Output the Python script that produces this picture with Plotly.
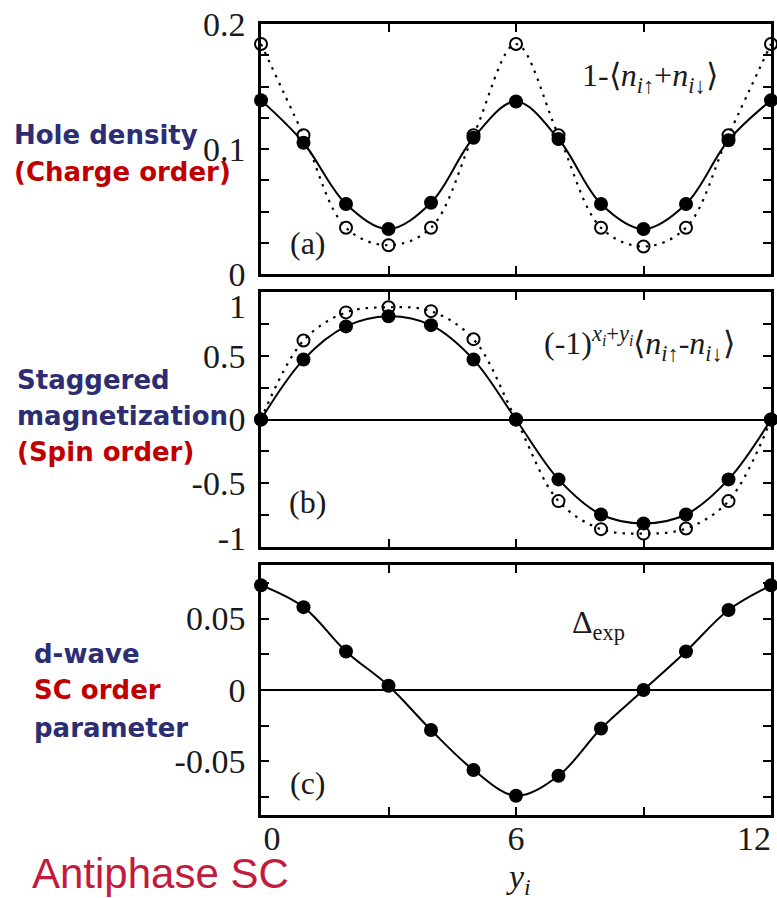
import plotly.graph_objects as go

W, H = 777, 898

# ---------------- data ----------------
y_sites = list(range(13))
hole_filled = [0.139, 0.105, 0.056, 0.036, 0.057, 0.109, 0.138, 0.108, 0.056, 0.036, 0.056, 0.107, 0.139]
hole_open = [0.184, 0.111, 0.037, 0.023, 0.037, 0.111, 0.184, 0.111, 0.037, 0.022, 0.037, 0.111, 0.184]
spin_filled = [0.0, 0.47, 0.73, 0.81, 0.74, 0.47, 0.0, -0.47, -0.745, -0.815, -0.745, -0.47, 0.0]
spin_open = [0.0, 0.62, 0.84, 0.88, 0.85, 0.63, 0.0, -0.64, -0.86, -0.895, -0.855, -0.64, 0.0]
dwave_filled = [0.0733, 0.058, 0.027, 0.003, -0.028, -0.056, -0.074, -0.060, -0.027, 0.0, 0.027, 0.056, 0.0733]

x_tickvals = [0, 3, 6, 9, 12]
x_label_vals = [0.26, 6, 11.6]
x_label_text = ["0", "6", "12"]
a_tickvals = [0, 0.025, 0.05, 0.075, 0.1, 0.125, 0.15, 0.175, 0.2]
a_ticktext = ["0", "", "", "", "0.1", "", "", "", "0.2"]
b_tickvals = [-1, -0.75, -0.5, -0.25, 0, 0.25, 0.5, 0.75, 1]
b_ticktext = ["", "", "-0.5", "", "0", "", "0.5", "", ""]
b_edge_vals = [0.89, -0.93]
b_edge_text = ["1", "-1"]
c_tickvals = [-0.075, -0.05, -0.025, 0, 0.025, 0.05, 0.075]
c_ticktext = ["", "-0.05", "", "0", "", "0.05", ""]

# ---------------- geometry (pixels) ----------------
x_left, x_right = 261, 771
panels = [(24, 274), (292, 547), (565, 815)]


def ydom(top, bot):
    return [1 - bot / H, 1 - top / H]


xdom = [x_left / W, x_right / W]

serif = "Liberation Serif"
tick_font = dict(family=serif, size=34, color="#1a1a1a")
black = "#000000"

fig = go.Figure()


def add_panel(idx, filled, opened):
    xa = "x" if idx == 1 else f"x{idx}"
    ya = "y" if idx == 1 else f"y{idx}"
    if opened is not None:
        fig.add_trace(go.Scatter(
            x=y_sites, y=opened, xaxis=xa, yaxis=ya, mode="lines+markers",
            line=dict(color=black, width=2.2, dash="2.5px,6px", shape="spline"),
            marker=dict(symbol="circle-open", size=12, color=black, line=dict(width=2)),
            cliponaxis=False, showlegend=False, hoverinfo="skip"))
    fig.add_trace(go.Scatter(
        x=y_sites, y=filled, xaxis=xa, yaxis=ya, mode="lines+markers",
        line=dict(color=black, width=2, shape="spline"),
        marker=dict(symbol="circle", size=14, color=black),
        cliponaxis=False, showlegend=False, hoverinfo="skip"))


add_panel(1, hole_filled, hole_open)
add_panel(2, spin_filled, spin_open)
add_panel(3, dwave_filled, None)

# invisible traces to carry the overlay label axes
fig.add_trace(go.Scatter(x=[None], y=[None], xaxis="x4", yaxis="y3", showlegend=False, hoverinfo="skip"))
fig.add_trace(go.Scatter(x=[None], y=[None], xaxis="x2", yaxis="y4", showlegend=False, hoverinfo="skip"))

common_axis = dict(showline=True, linecolor=black, linewidth=2.5, mirror="ticks",
                   ticks="inside", ticklen=8, tickwidth=2, tickcolor=black,
                   showgrid=False, tickfont=tick_font, automargin=False)

layout = dict(width=W, height=H, margin=dict(l=0, r=0, t=0, b=0, pad=0, autoexpand=False),
              paper_bgcolor="white", plot_bgcolor="white", showlegend=False)

for i, (top, bot) in enumerate(panels, start=1):
    xk = "xaxis" if i == 1 else f"xaxis{i}"
    yk = "yaxis" if i == 1 else f"yaxis{i}"
    ya = "y" if i == 1 else f"y{i}"
    xa = "x" if i == 1 else f"x{i}"
    layout[xk] = dict(common_axis, domain=xdom, anchor=ya, range=[0, 12],
                      tickvals=x_tickvals, ticktext=[""] * 5, zeroline=False)
    layout[yk] = dict(common_axis, domain=ydom(top, bot), anchor=xa,
                      ticklabelstandoff=6)

layout["yaxis"].update(range=[0, 0.2], tickvals=a_tickvals, ticktext=a_ticktext, zeroline=False)
layout["yaxis2"].update(range=[-1.0, 1.0], tickvals=b_tickvals, ticktext=b_ticktext,
                        zeroline=True, zerolinecolor=black, zerolinewidth=2)
layout["yaxis3"].update(range=[-0.0875, 0.0875], tickvals=c_tickvals, ticktext=c_ticktext,
                        zeroline=True, zerolinecolor=black, zerolinewidth=2)

# overlay label-only axes (labels nudged inside the frame as in the reference)
layout["xaxis4"] = dict(overlaying="x3", anchor="y3", side="bottom", domain=xdom, range=[0, 12],
                        tickvals=x_label_vals, ticktext=x_label_text, ticks="",
                        showline=False, showgrid=False, zeroline=False, tickfont=tick_font,
                        automargin=False, ticklabelstandoff=0)
layout["yaxis4"] = dict(overlaying="y2", anchor="x2", side="left", domain=ydom(*panels[1]),
                        range=[-1.0, 1.0], tickvals=b_edge_vals, ticktext=b_edge_text, ticks="",
                        showline=False, showgrid=False, zeroline=False, tickfont=tick_font,
                        automargin=False, ticklabelstandoff=14)

fig.update_layout(**layout)

ann_font = dict(family=serif, size=32, color="#1a1a1a")

# panel annotations (data coordinates)
fig.add_annotation(x=9.15, y=0.157, xref="x", yref="y", showarrow=False, font=ann_font,
                   text="1-⟨<i>n</i><sub><i>i</i>↑</sub>+<i>n</i><sub><i>i</i>↓</sub>⟩")
fig.add_annotation(x=1.1, y=0.025, xref="x", yref="y", showarrow=False, font=ann_font, text="(a)")
fig.add_annotation(x=8.9, y=0.6, xref="x2", yref="y2", showarrow=False, font=ann_font,
                   text="(-1)<sup><i>x<sub>i</sub></i>+<i>y<sub>i</sub></i></sup>⟨<i>n</i><sub><i>i</i>↑</sub>-<i>n</i><sub><i>i</i>↓</sub>⟩")
fig.add_annotation(x=1.1, y=-0.645, xref="x2", yref="y2", showarrow=False, font=ann_font, text="(b)")
fig.add_annotation(x=7.95, y=0.046, xref="x3", yref="y3", showarrow=False, font=ann_font,
                   text="Δ<sub>exp</sub>")
fig.add_annotation(x=1.1, y=-0.065, xref="x3", yref="y3", showarrow=False, font=ann_font, text="(c)")

# x-axis title
fig.add_annotation(x=518 / W, y=1 - 879 / H, xref="paper", yref="paper", showarrow=False,
                   yanchor="middle", font=dict(family=serif, size=34, color="#1a1a1a"),
                   text="<i>y<sub>i</sub></i>")

# left side labels
navy = "#2d2d72"
red = "#c00000"
lab_font = "DejaVu Sans"
left_labels = [
    ("<b>Hole density</b>", navy, 12, 135),
    ("<b>(Charge order)</b>", red, 12, 172),
    ("<b>Staggered</b>", navy, 15, 380),
    ("<b>magnetization</b>", navy, 15, 416),
    ("<b>(Spin order)</b>", red, 15, 452),
    ("<b>d-wave</b>", navy, 32, 654),
    ("<b>SC order</b>", red, 32, 690),
    ("<b>parameter</b>", navy, 32, 728),
]
for txt, col, xl, yc in left_labels:
    fig.add_annotation(x=xl / W, y=1 - yc / H, xref="paper", yref="paper", showarrow=False,
                       xanchor="left", yanchor="middle", text=txt,
                       font=dict(family=lab_font, size=26, color=col))

fig.add_annotation(x=30 / W, y=1 - 873 / H, xref="paper", yref="paper", showarrow=False,
                   xanchor="left", yanchor="middle", text="Antiphase SC",
                   font=dict(family="Liberation Sans", size=42, color="#c41a3b"))

fig.write_html("out.html")
